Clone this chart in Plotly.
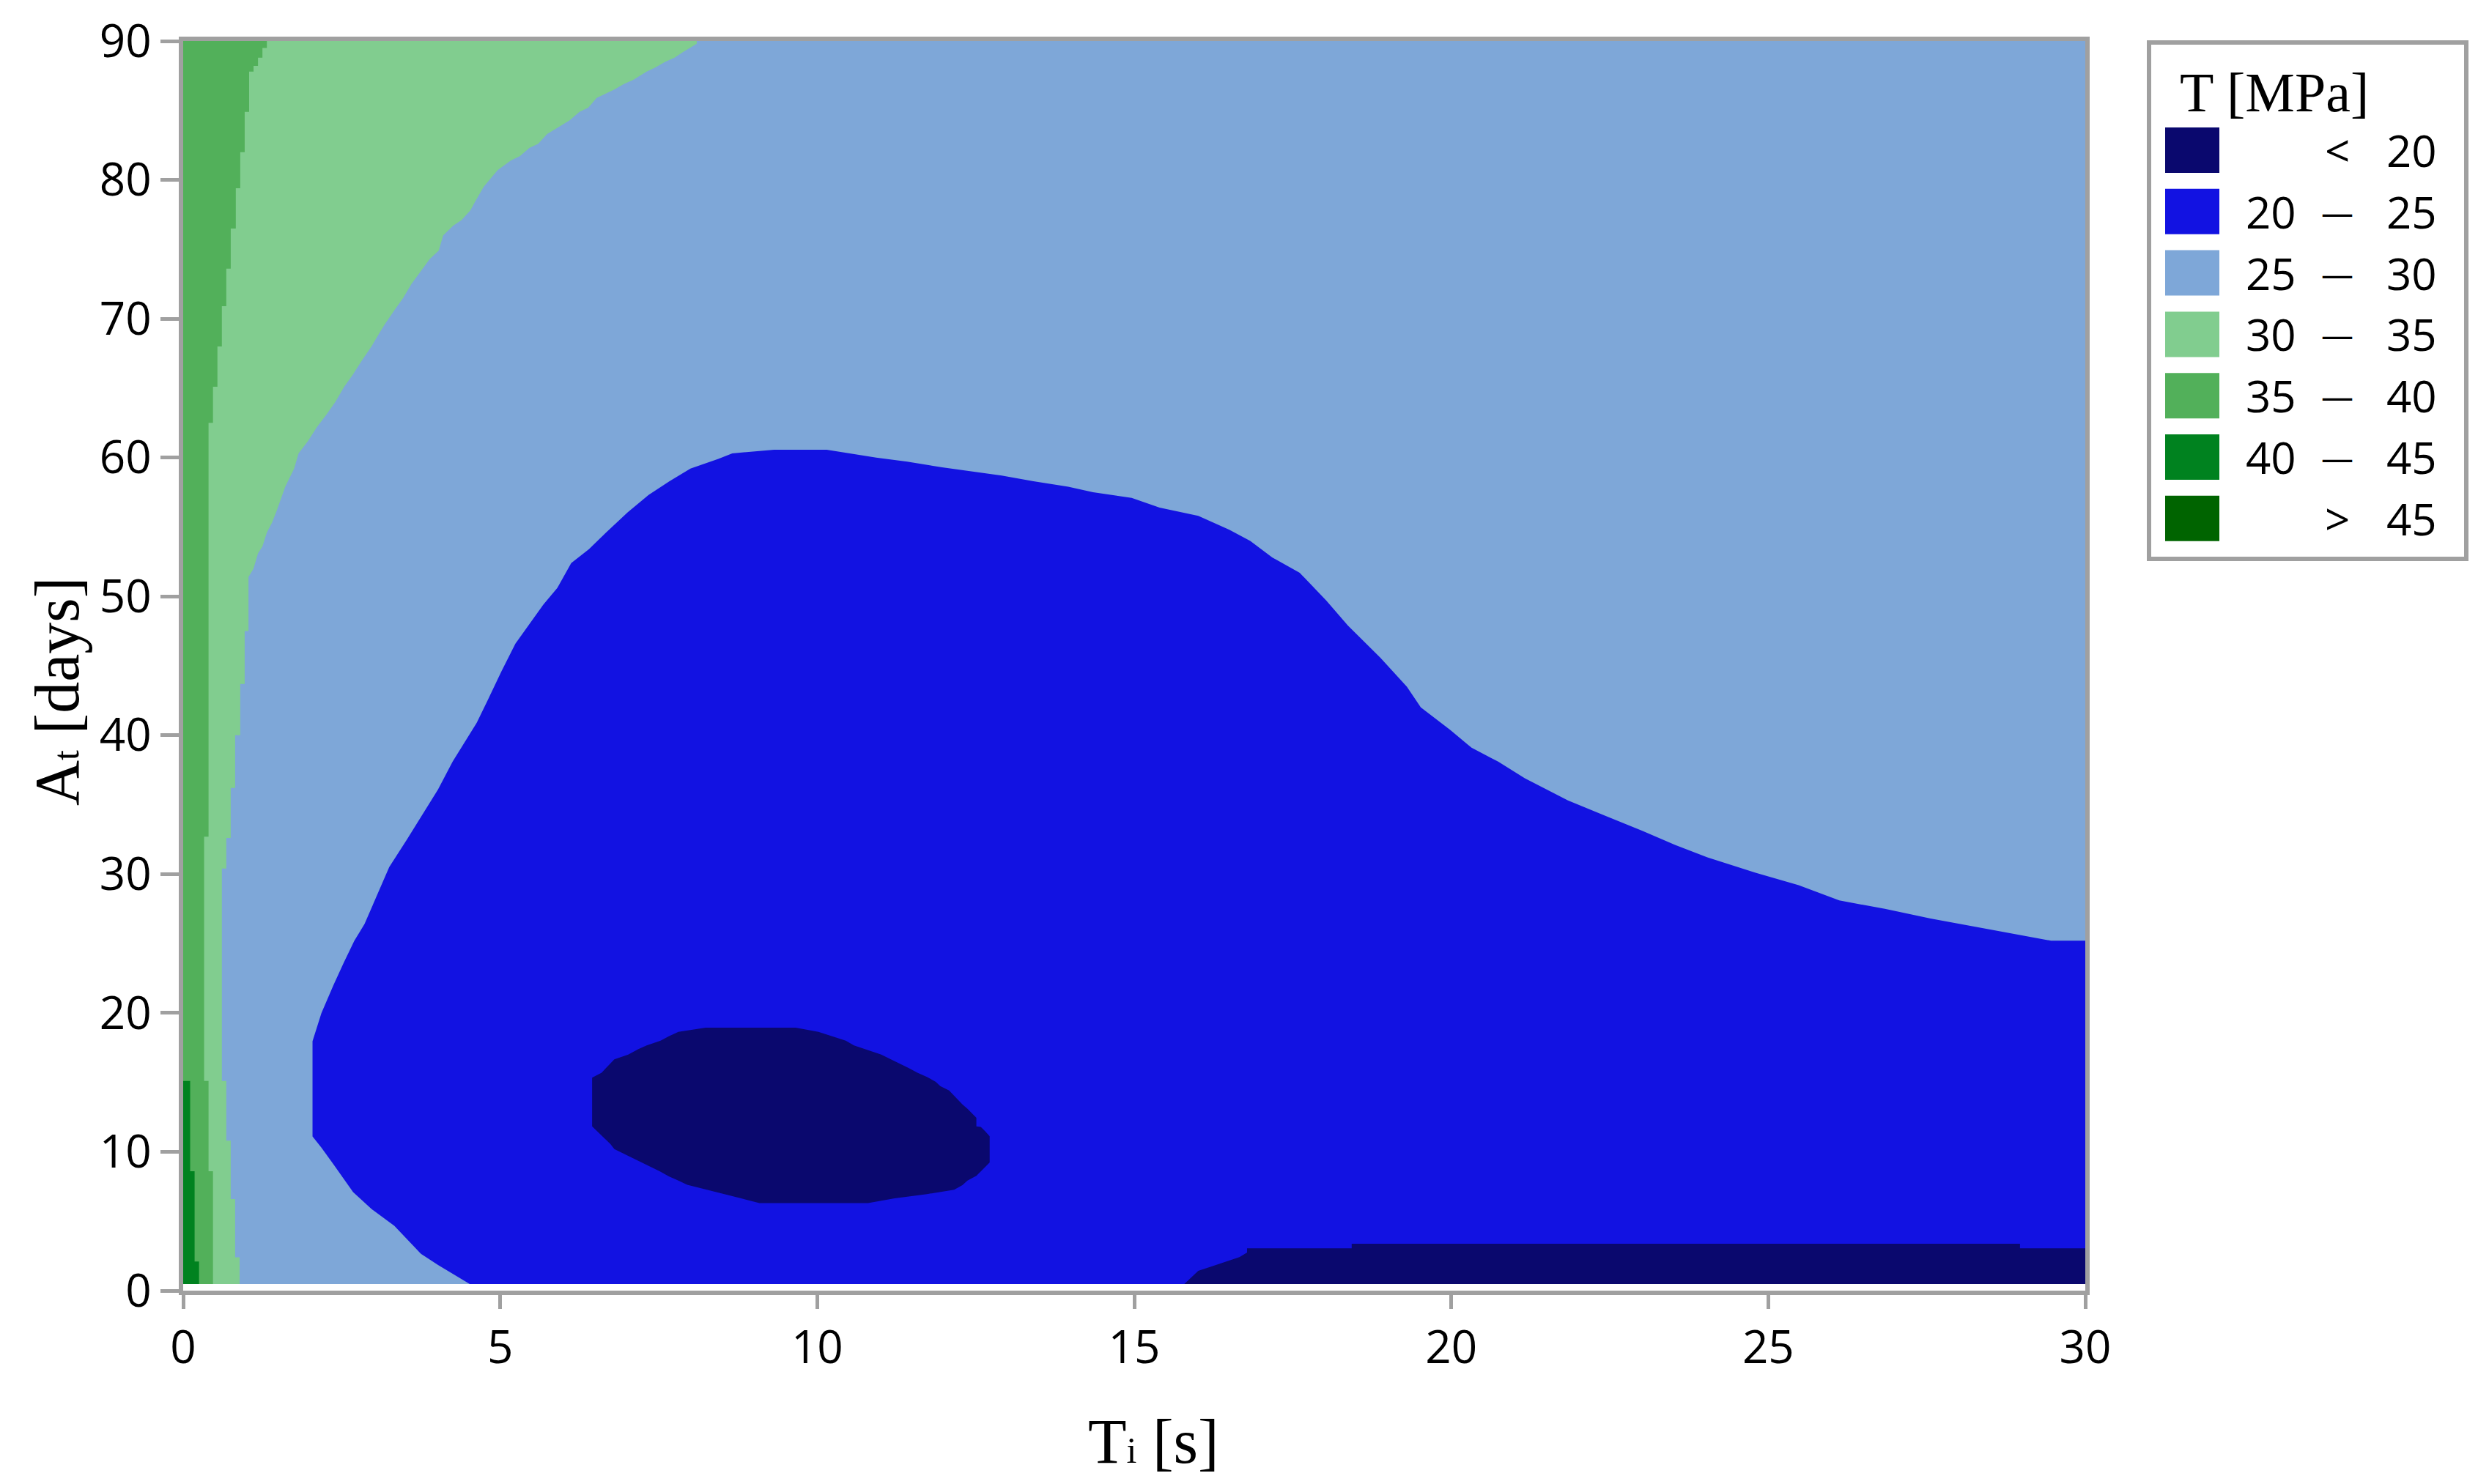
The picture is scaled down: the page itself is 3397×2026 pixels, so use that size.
import plotly.graph_objects as go

# ---------------- data ----------------
TI_RANGE = [0, 30]          # Ti [s]
AT_RANGE = [0.47, 90]       # At [days] (extent of the computed surface)

CLASS_NAMES = ["< 20", "20 - 25", "25 - 30", "30 - 35", "35 - 40", "40 - 45", "> 45"]
CLASS_COLORS = ["#0A086E", "#1212E2", "#7EA7D8", "#81CD8F", "#52B05A", "#00821F", "#006400"]

# boundary 25-30 / 30-35 (outer edge of the green zone)
G30_TI = [0.89, 0.89, 0.82, 0.82, 0.75, 0.75, 0.68, 0.68, 0.61, 0.61, 0.68, 0.68, 0.75, 0.75,
          0.82, 0.82, 0.90, 0.90, 0.97, 0.97, 1.03, 1.03, 1.11, 1.18, 1.25, 1.32, 1.40, 1.47,
          1.54, 1.61, 1.75, 1.82, 1.97, 2.11, 2.26, 2.40, 2.54, 2.68, 2.82, 2.97, 3.10, 3.18,
          3.33, 3.47, 3.60, 3.75, 3.89, 4.03, 4.10, 4.26, 4.39, 4.53, 4.60, 4.74, 4.96, 5.17,
          5.31, 5.46, 5.60, 5.74, 5.96, 6.10, 6.25, 6.39, 6.52, 6.67, 6.80, 6.95, 7.10, 7.31,
          7.45, 7.60, 7.75, 7.88, 8.10, 8.10]
G30_AT = [0.47, 2.4, 2.4, 6.6, 6.6, 10.8, 10.8, 15.1, 15.1, 30.4, 30.4, 32.6, 32.6, 36.2,
          36.2, 40.0, 40.0, 43.7, 43.7, 47.5, 47.5, 51.4, 52.0, 53.1, 53.6, 54.6, 55.3, 56.1,
          57.0, 57.9, 59.2, 60.3, 61.2, 62.2, 63.1, 64.0, 65.1, 66.0, 67.0, 68.0, 69.0, 69.6,
          70.6, 71.5, 72.5, 73.4, 74.3, 74.9, 76.0, 76.7, 77.1, 77.8, 78.4, 79.5, 80.7, 81.4,
          81.7, 82.3, 82.6, 83.3, 83.9, 84.3, 84.9, 85.2, 85.9, 86.2, 86.5, 86.9, 87.2, 87.8,
          88.1, 88.5, 88.8, 89.2, 89.8, 90.0]

# boundary 30-35 / 35-40
G35_TI = [0.47, 0.47, 0.40, 0.40, 0.33, 0.33, 0.40, 0.40, 0.47, 0.47, 0.54, 0.54, 0.61, 0.61,
          0.68, 0.68, 0.75, 0.75, 0.83, 0.83, 0.90, 0.90, 0.97, 0.97, 1.04, 1.04, 1.11, 1.11,
          1.18, 1.18, 1.25, 1.25, 1.32, 1.32]
G35_AT = [0.47, 8.6, 8.6, 15.1, 15.1, 32.7, 32.7, 62.5, 62.5, 65.1, 65.1, 68.0, 68.0, 70.9,
          70.9, 73.6, 73.6, 76.5, 76.5, 79.4, 79.4, 82.0, 82.0, 84.9, 84.9, 87.8, 87.8, 88.2,
          88.2, 88.8, 88.8, 89.5, 89.5, 90.0]

# boundary 35-40 / 40-45
G40_TI = [0.25, 0.25, 0.18, 0.18, 0.11, 0.11]
G40_AT = [0.47, 2.1, 2.1, 8.6, 8.6, 15.1]

# boundary 20-25 / 25-30 (large blue zone), from bottom-left round to right edge
B25_TI = [4.52, 4.02, 3.75, 3.33, 2.97, 2.68, 2.37, 2.18, 2.04, 2.04, 2.18, 2.37, 2.53, 2.70,
          2.86, 3.03, 3.25, 3.53, 3.80, 4.02, 4.25, 4.47, 4.63, 4.80, 5.02, 5.24, 5.46, 5.68,
          5.90, 6.12, 6.40, 6.67, 7.01, 7.34, 7.67, 8.00, 8.44, 8.66, 9.32, 10.15, 10.93,
          11.42, 11.97, 12.91, 13.41, 13.96, 14.35, 14.96, 15.40, 16.01, 16.50, 16.83, 17.18,
          17.61, 18.03, 18.37, 18.88, 19.30, 19.52, 19.98, 20.32, 20.74, 21.16, 21.84, 22.43,
          23.02, 23.53, 24.04, 24.80, 25.48, 26.12, 26.84, 27.56, 28.27, 28.95, 29.46, 30.0]
B25_AT = [0.47, 1.84, 2.65, 4.67, 5.88, 7.09, 9.10, 10.3, 11.1, 17.96, 19.98, 22.0, 23.6, 25.2,
          26.4, 28.2, 30.5, 32.5, 34.5, 36.1, 38.1, 39.7, 40.9, 42.5, 44.6, 46.6, 48.0, 49.4,
          50.6, 52.4, 53.4, 54.6, 56.05, 57.3, 58.3, 59.2, 59.9, 60.3, 60.56, 60.56, 60.0,
          59.7, 59.3, 58.7, 58.3, 57.9, 57.5, 57.1, 56.4, 55.8, 54.8, 54.0, 52.8,
          51.7, 49.7, 47.9, 45.6, 43.5, 42.0, 40.4, 39.1, 38.1, 36.9, 35.3, 34.2,
          33.1, 32.1, 31.2, 30.1, 29.2, 28.1, 27.5, 26.8, 26.2, 25.6, 25.2, 25.2]

# boundary < 20 (closed island)
N20_TI = [6.45, 6.60, 6.67, 6.80, 7.02, 7.18, 7.31, 7.53, 7.66, 7.81, 8.24, 9.66, 10.02, 10.23,
          10.45, 10.58, 10.80, 11.01, 11.15, 11.30, 11.44, 11.58, 11.73, 11.87, 11.94, 12.08,
          12.15, 12.22, 12.29, 12.37, 12.43, 12.51, 12.51, 12.58, 12.65, 12.72, 12.72, 12.65,
          12.58, 12.51, 12.37, 12.29, 12.16, 11.73, 11.22, 10.80, 9.09, 8.80, 8.52, 8.24, 7.95,
          7.81, 7.66, 7.52, 7.38, 7.24, 7.09, 6.95, 6.80, 6.74, 6.67, 6.60, 6.52, 6.45]
N20_AT = [15.34, 15.7, 16.04, 16.66, 17.0, 17.4, 17.66, 18.0, 18.32, 18.64, 18.94, 18.94, 18.64,
          18.32, 18.0, 17.66, 17.32, 17.0, 16.69, 16.36, 16.04, 15.69, 15.39, 15.04, 14.73,
          14.41, 14.08, 13.76, 13.41, 13.1, 12.80, 12.45, 11.83, 11.79, 11.48, 11.12, 9.23, 8.93,
          8.58, 8.27, 7.92, 7.60, 7.27, 6.95, 6.65, 6.30, 6.30, 6.65, 6.97, 7.27, 7.62,
          7.93, 8.23, 8.58, 8.90, 9.23, 9.55, 9.87, 10.2, 10.55, 10.86, 11.18, 11.51, 11.83]

# boundary < 20 (strip along the bottom)
S20_TI = [15.79, 15.86, 15.94, 16.01, 16.22, 16.44, 16.66, 16.78, 16.78, 18.43, 18.43, 28.97,
          28.97, 30.0]
S20_AT = [0.47, 0.77, 1.12, 1.42, 1.74, 2.09, 2.41, 2.74, 3.05, 3.05, 3.37, 3.37, 3.05, 3.05]

X_TICKS = [0, 5, 10, 15, 20, 25, 30]
Y_TICKS = [0, 10, 20, 30, 40, 50, 60, 70, 80, 90]

LEGEND_TITLE = "T [MPa]"
LEGEND_LOW = ["", "20", "25", "30", "35", "40", ""]
LEGEND_SEP = ["<", "—", "—", "—", "—", "—", ">"]
LEGEND_HIGH = ["20", "25", "30", "35", "40", "45", "45"]

# ---------------- figure ----------------
W_FIG, H_FIG = 3397, 2026
L, R, T, B = 250, 2846, 56, 1762
PW, PH = R - L, B - T


def fx(p):
    return (p - L) / PW


def fy(p):
    return (B - p) / PH


fig = go.Figure()


def region(xs, ys, color):
    fig.add_trace(go.Scatter(x=xs, y=ys, mode="lines", fill="toself", fillcolor=color,
                             line=dict(width=0, color=color), hoverinfo="skip",
                             showlegend=False))


x0, x1 = TI_RANGE
y0, y1 = AT_RANGE
# 25-30 background of the whole surface
region([x0, x1, x1, x0], [y0, y0, y1, y1], CLASS_COLORS[2])
# 30-35
region([x0] + G30_TI + [x0], [y0] + G30_AT + [y1], CLASS_COLORS[3])
# 35-40
region([x0] + G35_TI + [x0], [y0] + G35_AT + [y1], CLASS_COLORS[4])
# 40-45
region([x0] + G40_TI + [x0], [y0] + G40_AT + [G40_AT[-1]], CLASS_COLORS[5])
# 20-25
region(B25_TI + [x1], B25_AT + [y0], CLASS_COLORS[1])
# < 20
region(N20_TI, N20_AT, CLASS_COLORS[0])
region(S20_TI + [x1], S20_AT + [y0], CLASS_COLORS[0])

AX_GREY = "#A0A0A0"
TICK_FONT = dict(family="Open Sans, DejaVu Sans, sans-serif", size=62, color="black")
SERIF = "Liberation Serif, Times New Roman, serif"

fig.update_xaxes(range=TI_RANGE, tickvals=X_TICKS, ticktext=[str(v) for v in X_TICKS],
                 showgrid=False, zeroline=False, showline=True, linecolor=AX_GREY,
                 linewidth=6, mirror=True, ticks="outside", ticklen=19, tickwidth=5,
                 tickcolor=AX_GREY, tickfont=TICK_FONT)
fig.update_yaxes(range=[0, 90], tickvals=Y_TICKS, ticktext=[str(v) for v in Y_TICKS],
                 showgrid=False, zeroline=False, showline=True, linecolor=AX_GREY,
                 linewidth=6, mirror=True, ticks="outside", ticklen=25, tickwidth=5,
                 tickcolor=AX_GREY, tickfont=TICK_FONT)

ann = []
# axis titles
ann.append(dict(xref="paper", yref="paper", x=fx(1574), y=fy(1968), xanchor="center",
                yanchor="middle", showarrow=False,
                text='T<span style="font-size:50px">i</span> [s]',
                font=dict(family=SERIF, size=86, color="black")))
ann.append(dict(xref="paper", yref="paper", x=fx(78), y=fy(944), xanchor="center",
                yanchor="middle", showarrow=False, textangle=-90,
                text='A<span style="font-size:50px">t</span> [days]',
                font=dict(family=SERIF, size=86, color="black")))

shapes = []
# legend box
shapes.append(dict(type="rect", xref="paper", yref="paper", x0=fx(2933), x1=fx(3366),
                   y0=fy(763), y1=fy(58), line=dict(color=AX_GREY, width=6),
                   fillcolor="white", layer="above"))
ann.append(dict(xref="paper", yref="paper", x=fx(2973), y=fy(126), xanchor="left",
                yanchor="middle", showarrow=False, text=LEGEND_TITLE,
                font=dict(family=SERIF, size=76, color="black")))
LEG_FONT = dict(family="Open Sans, DejaVu Sans, sans-serif", size=60, color="black")
SEP_FONT = dict(family="Open Sans, DejaVu Sans, sans-serif", size=44, color="black")
row0, dy, sh = 205, 83.8, 62
for i, col in enumerate(CLASS_COLORS):
    cy = row0 + i * dy
    shapes.append(dict(type="rect", xref="paper", yref="paper", x0=fx(2955), x1=fx(3029),
                       y0=fy(cy + sh / 2), y1=fy(cy - sh / 2), line=dict(width=0),
                       fillcolor=col, layer="above"))
    if LEGEND_LOW[i]:
        ann.append(dict(xref="paper", yref="paper", x=fx(3136), y=fy(cy), xanchor="right",
                        yanchor="middle", showarrow=False, text=LEGEND_LOW[i], font=LEG_FONT))
    sep_font = LEG_FONT if LEGEND_SEP[i] in ("<", ">") else SEP_FONT
    ann.append(dict(xref="paper", yref="paper", x=fx(3190), y=fy(cy), xanchor="center",
                    yanchor="middle", showarrow=False, text=LEGEND_SEP[i], font=sep_font))
    ann.append(dict(xref="paper", yref="paper", x=fx(3328), y=fy(cy), xanchor="right",
                    yanchor="middle", showarrow=False, text=LEGEND_HIGH[i], font=LEG_FONT))

fig.update_layout(width=W_FIG, height=H_FIG, paper_bgcolor="white", plot_bgcolor="white",
                  margin=dict(l=L, r=W_FIG - R, t=T, b=H_FIG - B, pad=0),
                  showlegend=False, annotations=ann, shapes=shapes)

fig.write_html("out.html", config={"displayModeBar": False},
               post_script="document.body.style.margin='0px';")
